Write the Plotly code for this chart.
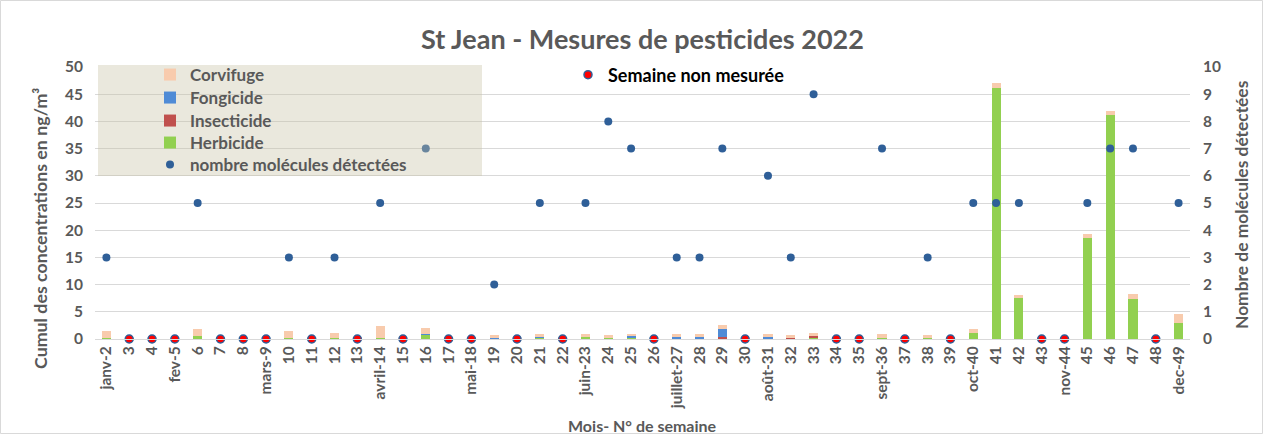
import plotly.graph_objects as go

weeks = ["janv-2", "3", "4", "fev-5", "6", "7", "8", "mars-9", "10", "11", "12", "13",
         "avril-14", "15", "16", "17", "mai-18", "19", "20", "21", "22", "juin-23", "24", "25",
         "26", "juillet-27", "28", "29", "30", "août-31", "32", "33", "34", "35", "sept-36", "37",
         "38", "39", "oct-40", "41", "42", "43", "nov-44", "45", "46", "47", "48", "dec-49"]

herbicide = [0.1, 0, 0, 0, 0.6, 0, 0, 0, 0.1, 0, 0.1, 0,
             0.2, 0, 0.8, 0, 0, 0, 0, 0.2, 0, 0.4, 0.2, 0.2,
             0, 0.1, 0.1, 0, 0, 0.1, 0, 0.2, 0, 0, 0.2, 0,
             0.1, 0, 1.15, 46.2, 7.5, 0, 0, 18.5, 41.1, 7.4, 0, 3.0]
insecticide = [0, 0, 0, 0, 0, 0, 0, 0, 0, 0, 0, 0,
               0, 0, 0, 0, 0, 0, 0, 0, 0, 0.05, 0, 0,
               0, 0, 0, 0.4, 0, 0, 0.1, 0.3, 0, 0, 0, 0,
               0, 0, 0, 0, 0, 0, 0, 0, 0, 0, 0, 0]
fongicide = [0, 0, 0, 0, 0, 0, 0, 0, 0, 0, 0, 0,
             0, 0, 0.2, 0, 0, 0.2, 0, 0.2, 0, 0, 0, 0.3,
             0, 0.3, 0.3, 1.5, 0, 0.3, 0, 0, 0, 0, 0, 0,
             0, 0, 0, 0, 0, 0, 0, 0, 0, 0, 0, 0]
corvifuge = [1.3, 0, 0, 0, 1.3, 0, 0, 0, 1.4, 0, 1.0, 0,
             2.2, 0, 1.0, 0, 0, 0.5, 0, 0.5, 0, 0.4, 0.6, 0.5,
             0, 0.5, 0.5, 0.6, 0, 0.5, 0.6, 0.6, 0, 0, 0.7, 0,
             0.6, 0, 0.6, 0.8, 0.6, 0, 0, 0.8, 0.9, 0.9, 0, 1.65]
# None = semaine non mesurée
nb_molecules = [3, None, None, None, 5, None, None, None, 3, None, 3, None,
                5, None, 7, None, None, 2, None, 5, None, 5, 8, 7,
                None, 3, 3, 7, None, 6, 3, 9, None, None, 7, None,
                3, None, 5, 5, 5, None, None, 5, 7, 7, None, 5]

non_mesure_x = [w for w, v in zip(weeks, nb_molecules) if v is None]
non_mesure_y = [0 for v in nb_molecules if v is None]
mes_x = [w for w, v in zip(weeks, nb_molecules) if v is not None]
mes_y = [v for v in nb_molecules if v is not None]

GREY = "#595959"
FONT = "Lato"
DOT = "#2F5F98"

W, H = 1263, 434
L, R, T, B = 95, 73, 67, 95
pw, ph = W - L - R, H - T - B

def px(xp):
    return (xp - L) / pw

def py(yp):
    return (H - B - yp) / ph

fig = go.Figure()
# stacking order bottom -> top; legend name + legend slot
series = [("Herbicide", herbicide, "#92D050", "legend4"),
          ("Insecticide", insecticide, "#C0504D", "legend3"),
          ("Fongicide", fongicide, "#4F8BD6", "legend2"),
          ("Corvifuge", corvifuge, "#F8CBAD", "legend")]
for name, vals, col, leg in series:
    fig.add_trace(go.Bar(x=weeks, y=vals, name=name, marker_color=col, marker_line_width=0,
                         legend=leg, showlegend=True))

fig.add_trace(go.Scatter(x=mes_x, y=mes_y, mode="markers", name="nombre molécules détectées",
                         marker=dict(color=DOT, size=8), yaxis="y2", legend="legend5", showlegend=True))
fig.add_trace(go.Scatter(x=non_mesure_x, y=non_mesure_y, mode="markers", name="Semaine non mesurée",
                         marker=dict(color="#FF0000", size=8, line=dict(color=DOT, width=1.5)),
                         yaxis="y2", legend="legend6", cliponaxis=False, showlegend=True))

leg_font = dict(size=17, color=GREY, weight="bold")
legend_rows = {"legend": 75, "legend2": 98, "legend3": 121, "legend4": 143, "legend5": 165}
legends = {}
for key, yc in legend_rows.items():
    legends[key] = dict(x=px(150), y=py(yc), xanchor="left", yanchor="middle",
                        bgcolor="rgba(0,0,0,0)", font=leg_font, itemwidth=30, visible=True)
legends["legend6"] = dict(x=px(568), y=py(75), xanchor="left", yanchor="middle",
                          bgcolor="rgba(0,0,0,0)", itemwidth=30, visible=True,
                          font=dict(size=18, color="#000000", weight="bold"))

fig.update_layout(
    width=W, height=H, showlegend=True,
    margin=dict(l=L, r=R, t=T, b=B, autoexpand=False),
    paper_bgcolor="white", plot_bgcolor="white",
    barmode="stack", bargap=0.6,
    font=dict(family=FONT, color=GREY, size=14),
    title=dict(text="<b>St Jean - Mesures de pesticides 2022</b>", x=0.5, xref="paper",
               y=1 - 40 / H, yanchor="middle", font=dict(size=27, color=GREY, family=FONT),
               automargin=False),
    xaxis=dict(type="category", tickangle=-90, automargin=False, range=[-0.5, len(weeks) - 0.5],
               tickfont=dict(size=15.5, color=GREY, family=FONT, weight="bold"),
               showline=True, linecolor="#D9D9D9", ticks="", showgrid=False),
    yaxis=dict(range=[0, 50], dtick=5, showgrid=True, gridcolor="#D9D9D9", zeroline=False,
               automargin=False, ticklabelstandoff=11,
               tickfont=dict(size=15.5, color=GREY, weight="bold")),
    yaxis2=dict(range=[0, 10], dtick=1, overlaying="y", side="right", showgrid=False, zeroline=False,
                automargin=False, ticklabelstandoff=12,
                tickfont=dict(size=15.5, color=GREY, weight="bold")),
    shapes=[
        dict(type="rect", xref="paper", yref="paper", x0=px(98), x1=px(482), y0=py(176), y1=py(65),
             fillcolor="rgba(200,195,165,0.38)", line_width=0, layer="above"),
        dict(type="rect", xref="paper", yref="paper", x0=px(0.5), x1=px(W - 0.5), y0=py(H - 0.5), y1=py(0.5),
             line=dict(color="#D9D9D9", width=1), fillcolor="rgba(0,0,0,0)", layer="below"),
    ],
    annotations=[
        dict(text="<b>Mois- N° de semaine</b>", xref="paper", yref="paper", x=0.5, y=py(425),
             showarrow=False, yanchor="middle", font=dict(size=16, color=GREY)),
        dict(text="<b>Cumul des concentrations en ng/m³</b>", xref="paper", yref="paper",
             x=px(40), y=py(229), textangle=-90, showarrow=False, xanchor="center", yanchor="middle",
             font=dict(size=17.8, color=GREY)),
        dict(text="<b>Nombre de molécules détectées</b>", xref="paper", yref="paper",
             x=px(1241), y=py(205), textangle=-90, showarrow=False, xanchor="center", yanchor="middle",
             font=dict(size=17.4, color=GREY)),
    ],
    **legends,
)

fig.write_html("out.html", config={"displayModeBar": False},
               post_script="document.body.style.margin='0';")
